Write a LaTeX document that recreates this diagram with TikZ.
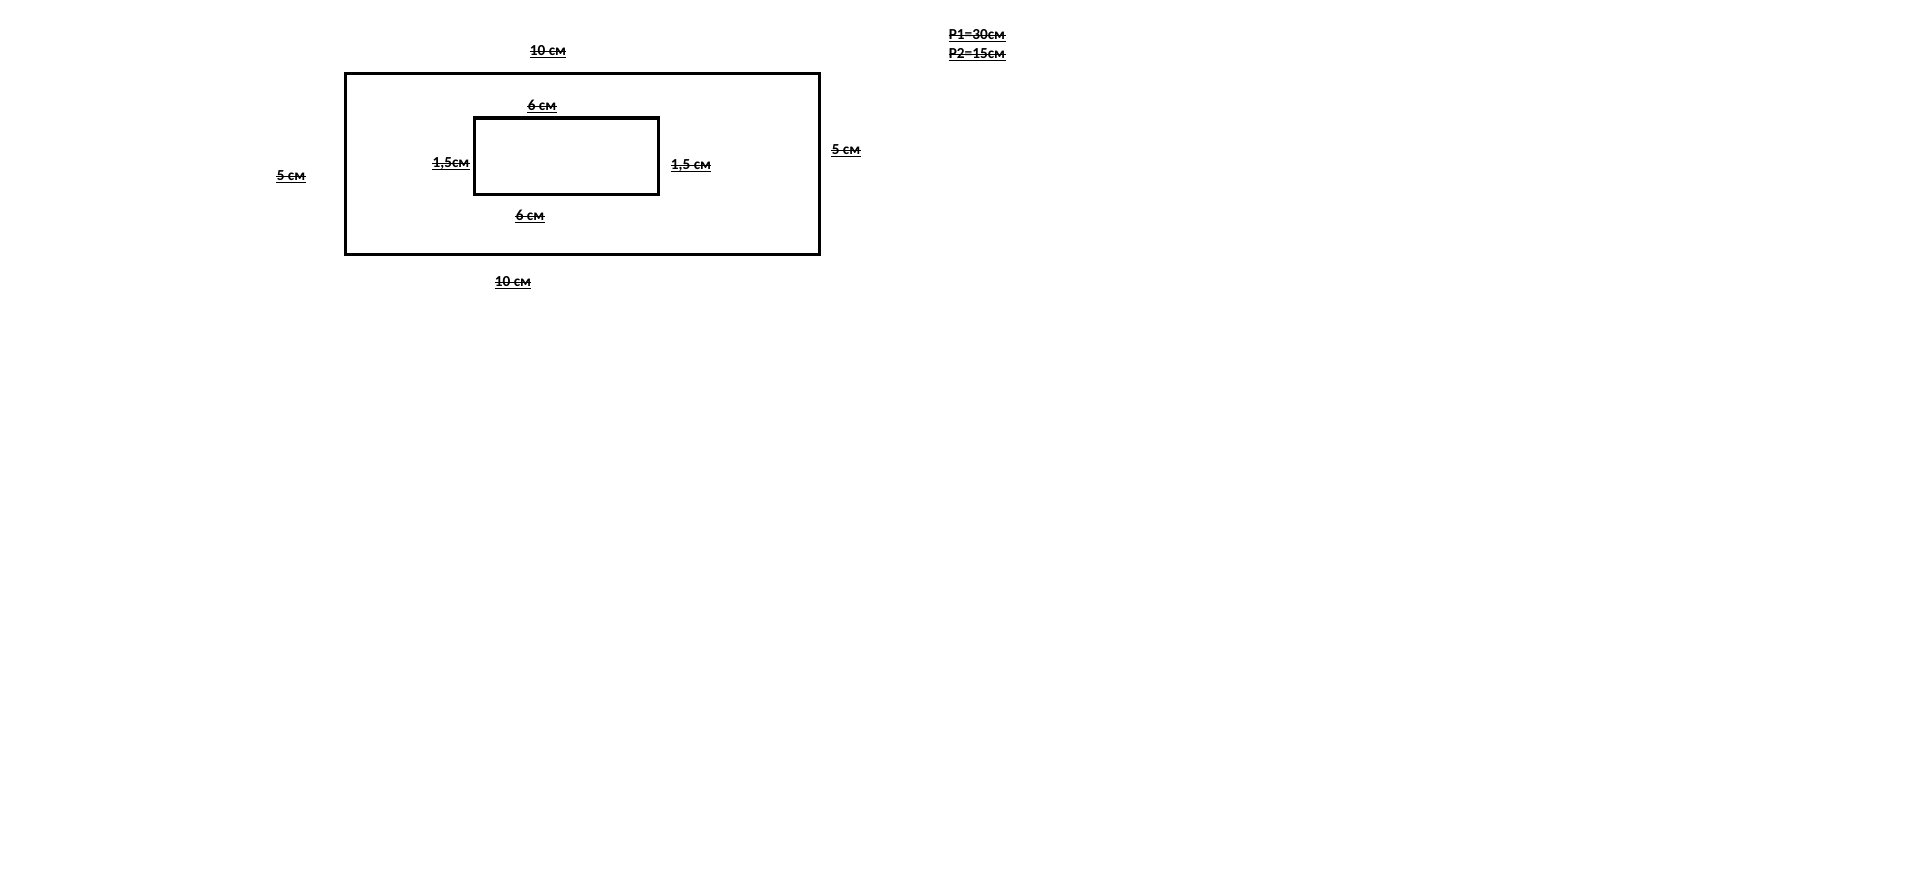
\documentclass[tikz,border=0pt]{standalone}
\usepackage{fontspec}
\newfontfamily\lenfont{Carlito}
\begin{document}
\begin{tikzpicture}[x=0.02cm,y=-0.02cm,
	frame/.style={draw,line width=1.8pt},
	len/.style={font=\lenfont\bfseries\fontsize{8.7}{10}\selectfont,inner sep=0pt,anchor=base},
	lenline/.style={line width=0.6pt}]
	\useasboundingbox (0,0) rectangle (1914,874);
	\draw[frame] (345.5,73.5) rectangle (819.5,254.5);
	\draw[frame] (474.5,118) rectangle (658.5,194.5);
	\node[len] (t10) at (548,55.5) {10 см};
	\node[len] (b10) at (513,286.5) {10 см};
	\node[len] (t6) at (542,110.5) {6 см};
	\node[len] (b6) at (530,220.5) {6 см};
	\node[len] (l15) at (451,167.5) {1,5см};
	\node[len] (r15) at (691,169.5) {1,5 см};
	\node[len] (l5) at (291,180.5) {5 см};
	\node[len] (r5) at (846,154.5) {5 см};
	\node[len] (p1) at (977,39.5) {P1=30см};
	\node[len] (p2) at (977,58.5) {P2=15см};
	\foreach \n in {t10,b10,t6,b6,l15,r15,l5,r5,p1,p2}
	{
		\draw[lenline] ([yshift=-1pt]\n.base west) -- ([yshift=-1pt]\n.base east);
		\draw[lenline] ([yshift=2.2pt]\n.base west) -- ([yshift=2.2pt]\n.base east);
	}
\end{tikzpicture}
\end{document}
